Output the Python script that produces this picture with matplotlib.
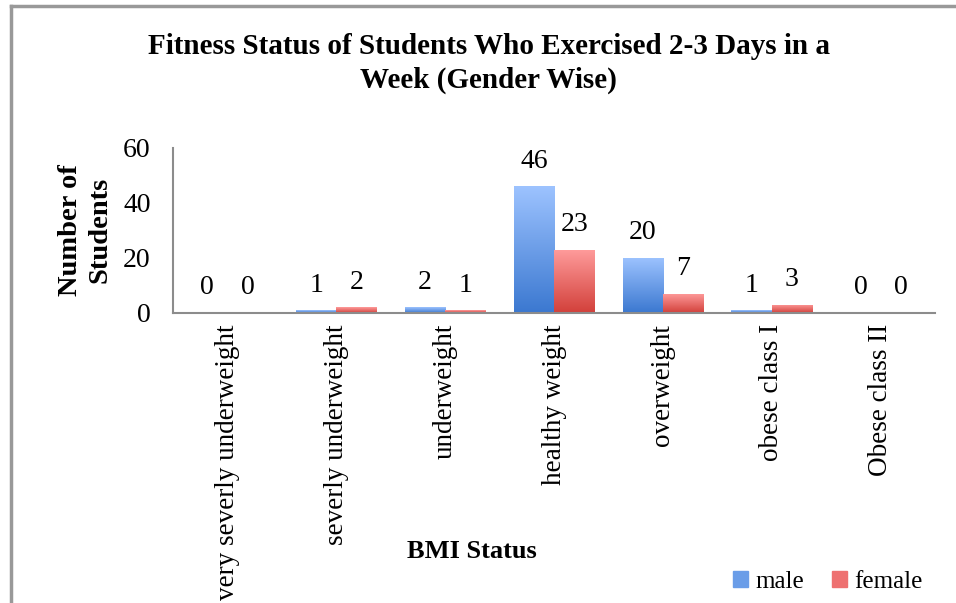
import matplotlib.pyplot as plt
from matplotlib.colors import LinearSegmentedColormap
import numpy as np

categories = ['very severly underweight', 'severly underweight', 'underweight',
              'healthy weight', 'overweight', 'obese class I', 'Obese class II']
male = [0, 1, 2, 46, 20, 1, 0]
female = [0, 2, 1, 23, 7, 3, 0]
yticks = [0, 20, 40, 60]

plt.rcParams['font.family'] = ['Liberation Serif', 'DejaVu Serif']


def gradient_bars(ax, bars, top_color, bottom_color):
    cmap = LinearSegmentedColormap.from_list('g', [bottom_color, top_color])
    grad = np.linspace(0, 1, 256).reshape(-1, 1)
    for b in bars:
        x0, y0 = b.get_x(), b.get_y()
        w, h = b.get_width(), b.get_height()
        if h <= 0:
            continue
        b.set_facecolor('none')
        b.set_edgecolor('none')
        im = ax.imshow(grad, cmap=cmap, origin='lower', aspect='auto',
                       extent=[x0, x0 + w, y0, y0 + h], zorder=2)
        im.set_clip_path(b)


def main():
    fig = plt.figure(figsize=(9.56, 6.03), dpi=100)
    ax = fig.add_axes([0.181, 0.481, 0.797, 0.274])

    x = np.arange(len(categories))
    w = 0.37
    mb = ax.bar(x - w / 2, male, w, label='male', color='#6a9de8')
    fb = ax.bar(x + w / 2, female, w, label='female', color='#ee7070')
    gradient_bars(ax, mb, '#9dc3ff', '#3b78d0')
    gradient_bars(ax, fb, '#ff9c9c', '#d2403a')

    for xi, v in zip(x - w / 2, male):
        ax.annotate(str(v), (xi, v), xytext=(0, 9), textcoords='offset points',
                    ha='center', va='bottom', fontsize=20)
    for xi, v in zip(x + w / 2, female):
        ax.annotate(str(v), (xi, v), xytext=(0, 9), textcoords='offset points',
                    ha='center', va='bottom', fontsize=20)

    ax.set_xlim(-0.5, len(categories) - 0.5)
    ax.set_ylim(0, 60)
    ax.set_yticks(yticks)
    ax.set_yticklabels([str(t) for t in yticks], fontsize=20)
    ax.set_xticks(x)
    ax.set_xticklabels(categories, rotation=90, fontsize=19.5, va='top')
    ax.tick_params(axis='x', length=0, pad=8)
    ax.tick_params(axis='y', length=0, pad=16)
    for s in ['top', 'right']:
        ax.spines[s].set_visible(False)
    for s in ['left', 'bottom']:
        ax.spines[s].set_color('#8c8c8c')
        ax.spines[s].set_linewidth(1.5)

    fig.text(0.511, 0.895, 'Fitness Status of Students Who Exercised 2-3 Days in a\nWeek (Gender Wise)',
             ha='center', va='center', fontsize=21, fontweight='bold', linespacing=1.3)
    fig.text(0.089, 0.618, 'Number of\nStudents', rotation=90, ha='center', va='center',
             fontsize=20.5, fontweight='bold', linespacing=1.25)
    fig.text(0.494, 0.086, 'BMI Status', ha='center', va='center', fontsize=19, fontweight='bold')

    handles = [plt.Rectangle((0, 0), 1, 1, color='#6a9de8'), plt.Rectangle((0, 0), 1, 1, color='#ee7070')]
    fig.legend(handles, ['male', 'female'], loc='center', bbox_to_anchor=(0.866, 0.035),
               ncol=2, frameon=False, fontsize=18, handlelength=0.6, handleheight=0.6,
               handletextpad=0.3, columnspacing=1.1)

    # outer frame (left and top edges only visible)
    fig.add_artist(plt.Line2D([0.011, 0.011], [0, 0.99], color='#999999', lw=2.5))
    fig.add_artist(plt.Line2D([0.011, 1.0], [0.99, 0.99], color='#999999', lw=2.5))

    fig.savefig('out.png', dpi=100)


if __name__ == '__main__':
    main()
